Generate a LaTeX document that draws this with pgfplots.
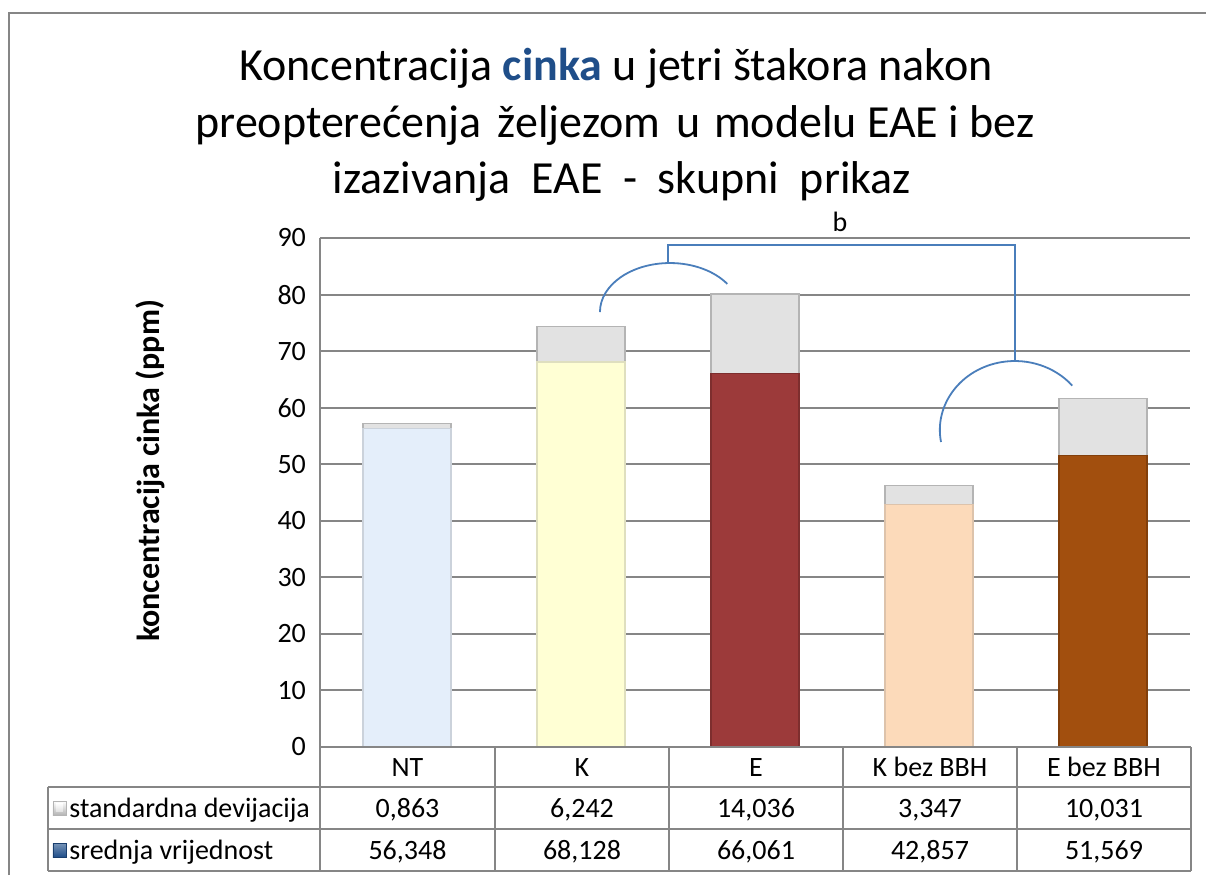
\documentclass[border=0pt]{standalone}
\usepackage{fontspec}
\setmainfont{Carlito}
\usepackage{pgfplots}
\pgfplotsset{compat=1.18}
\definecolor{gridc}{HTML}{868686}
\definecolor{ntc}{HTML}{E4EEFA}
\definecolor{kc}{HTML}{FFFFD4}
\definecolor{ec}{HTML}{9C3A3A}
\definecolor{kbc}{HTML}{FCDABA}
\definecolor{ebc}{HTML}{A24F0E}
\definecolor{sdc}{HTML}{E2E2E2}
\definecolor{sdd}{HTML}{B4B4B4}
\definecolor{annc}{HTML}{4A7EBB}
\definecolor{titleblue}{HTML}{1F4E89}
\begin{document}
\begin{tikzpicture}
\begin{axis}[
  at={(0,0)}, anchor=south west,
  scale only axis, width=435pt, height=254.5pt,
  xmin=-0.5, xmax=4.5, ymin=0, ymax=90,
  ybar stacked, bar width=44pt,
  xtick=\empty,
  ytick={0,10,...,90},
  ymajorgrids, grid style={gridc, line width=1pt},
  axis x line*=bottom, axis y line*=left,
  axis line style={-, gridc, line width=1pt},
  major tick length=0pt,
  /pgf/number format/assume math mode=true,
  yticklabel style={font=\fontsize{14}{15}\selectfont, xshift=-3.5pt},
  clip=false,
]
\addplot[fill=ntc, draw=ntc!75!gray, line width=0.8pt] coordinates {(0,56.348) (1,0) (2,0) (3,0) (4,0)};
\addplot[fill=kc, draw=kc!75!gray, line width=0.8pt] coordinates {(0,0) (1,68.128) (2,0) (3,0) (4,0)};
\addplot[fill=ec, draw=ec!80!black, line width=0.8pt] coordinates {(0,0) (1,0) (2,66.061) (3,0) (4,0)};
\addplot[fill=kbc, draw=kbc!75!gray, line width=0.8pt] coordinates {(0,0) (1,0) (2,0) (3,42.857) (4,0)};
\addplot[fill=ebc, draw=ebc!80!black, line width=0.8pt] coordinates {(0,0) (1,0) (2,0) (3,0) (4,51.569)};
\addplot[fill=sdc, draw=sdd, line width=0.8pt] coordinates {(0,0.863) (1,6.242) (2,14.036) (3,3.347) (4,10.031)};
% significance annotations
\draw[annc, line width=0.9pt] (axis cs:1.109,76.91) arc[start angle=180, end angle=35, x radius=35pt, y radius=24.5pt];
\draw[annc, line width=0.9pt] (axis cs:1.5,85.6) -- (axis cs:1.5,88.75) -- (axis cs:3.494,88.75) -- (axis cs:3.494,68.25);
\draw[annc, line width=0.9pt] (axis cs:3.069,53.93) arc[start angle=190, end angle=40, x radius=37.5pt, y radius=34.5pt];
\node[font=\fontsize{14}{15}\selectfont] at (axis cs:2.489,92.8) {b};
\end{axis}
\begin{scope}[x=0.5pt, y=-0.5pt, shift={(-320,-747)}]
\path[use as bounding box] (0,0) rectangle (1206,875);
% outer border
\draw[gridc, line width=1.2pt] (9,875) -- (9,13) -- (1206,13);
% title
\node[anchor=base, font=\fontsize{23}{28}\selectfont] at (616,80) {Koncentracija \textbf{\textcolor{titleblue}{cinka}} u jetri štakora nakon};
\node[anchor=base, font=\fontsize{23}{28}\selectfont] at (615,137) {preopterećenja\hspace{0.35em}željezom\hspace{0.35em}u\hspace{0.3em}modelu EAE i bez};
\node[anchor=base, font=\fontsize{23}{28}\selectfont] at (622,194) {izazivanja\hspace{0.45em}EAE\hspace{0.45em}-\hspace{0.45em}skupni\hspace{0.45em}prikaz};
% y label
\node[rotate=90, font=\fontsize{16}{18}\selectfont\bfseries] at (150,471) {koncentracija cinka (ppm)};
% data table
\begin{scope}[gridc, line width=0.8pt]
\draw (320,747) -- (1191,747);
\draw (48,787) -- (1191,787);
\draw (48,829) -- (1191,829);
\draw (48,871) -- (1191,871);
\draw (48,787) -- (48,871);
\foreach \x in {320,495,669,843,1017,1191} \draw (\x,747) -- (\x,871);
\end{scope}
\begin{scope}[font=\fontsize{14}{15}\selectfont]
\node[anchor=base] at (407.5,776) {NT};
\node[anchor=base] at (582,776) {K};
\node[anchor=base] at (756,776) {E};
\node[anchor=base] at (930,776) {K bez BBH};
\node[anchor=base] at (1104,776) {E bez BBH};
\node[anchor=base] at (407.5,817) {0,863};
\node[anchor=base] at (582,817) {6,242};
\node[anchor=base] at (756,817) {14,036};
\node[anchor=base] at (930,817) {3,347};
\node[anchor=base] at (1104,817) {10,031};
\node[anchor=base] at (407.5,859) {56,348};
\node[anchor=base] at (582,859) {68,128};
\node[anchor=base] at (756,859) {66,061};
\node[anchor=base] at (930,859) {42,857};
\node[anchor=base] at (1104,859) {51,569};
\node[anchor=base west, inner sep=0pt] at (69,817) {standardna devijacija};
\node[anchor=base west, inner sep=0pt] at (69,859) {srednja vrijednost};
\end{scope}
\shade[top color=white, bottom color=sdd, draw=sdd, line width=0.4pt] (53,801) rectangle (66,815);
\shade[top color=white, bottom color=sdc] (56,803) rectangle (63,811);
\shade[top color=titleblue!60!white, bottom color=titleblue, draw=titleblue!80!black, line width=0.4pt] (53,843) rectangle (66,857);
\end{scope}
\end{tikzpicture}
\end{document}
